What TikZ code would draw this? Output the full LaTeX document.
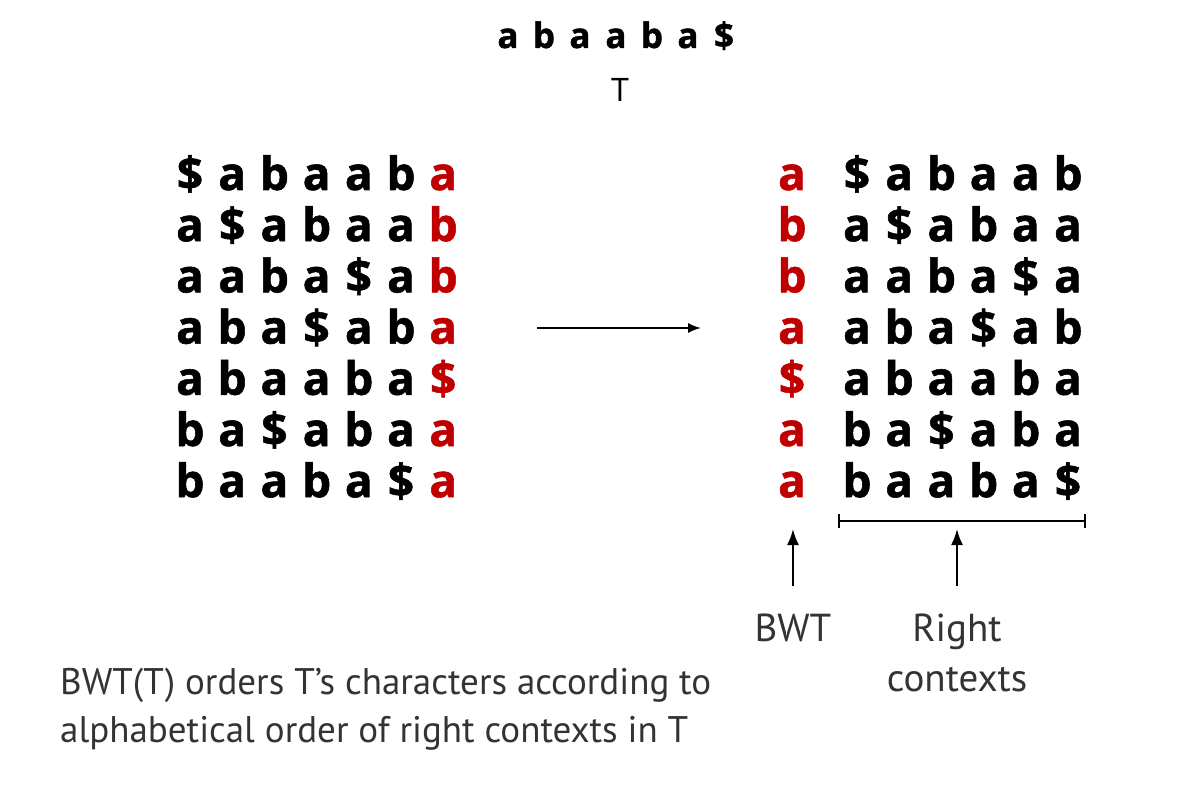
\documentclass[tikz,border=0pt]{standalone}
\usepackage{fontspec}
\setmainfont{PT Sans}
\newfontfamily\gridfont[BoldFeatures={FakeBold=1.2}]{Open Sans}
\usetikzlibrary{positioning,arrows.meta}
\definecolor{bwtred}{RGB}{192,0,0}
\definecolor{labelgray}{RGB}{51,51,51}

\begin{document}
\begin{tikzpicture}[x=1pt, y=-1pt,
  char node/.style={anchor=base, inner sep=0pt, font=\gridfont\bfseries\fontsize{46}{46}\selectfont},
  bwt node/.style={char node, text=bwtred},
  top node/.style={anchor=base, inner sep=0pt, font=\gridfont\bfseries\fontsize{35}{35}\selectfont},
  label node/.style={text=labelgray, inner sep=0pt, align=center, font=\fontsize{39}{50}\selectfont},
  pointer/.style={-{Latex[length=16pt,width=12pt]}, line width=2pt, draw=black}]

  \useasboundingbox (0,0) rectangle (1197,786);

  % the text T
  \foreach \c [count=\k] in {a,b,a,a,b,a,\$}
    \node[top node] (T\k) at ({508+(\k-1)*36},48) {\c};
  \node[anchor=base, inner sep=0pt, font=\fontsize{33}{33}\selectfont] (Tname) at (620,102) {T};

  % rotations (left) and sorted with BWT column (right)
  \foreach \row [count=\r] in {{\$,a,b,a,a,b,a},{a,\$,a,b,a,a,b},{a,a,b,a,\$,a,b},{a,b,a,\$,a,b,a},
                               {a,b,a,a,b,a,\$},{b,a,\$,a,b,a,a},{b,a,a,b,a,\$,a}}
    \foreach \c [count=\k] in \row {
      \pgfmathsetmacro\ypos{190+(\r-1)*51.2}
      \ifnum\k<7
        \node[char node] (L\r-\k) at ({190+(\k-1)*42.2},\ypos) {\c};
        \node[char node] (R\r-\k) at ({857+(\k-1)*42.2},\ypos) {\c};
      \else
        \node[bwt node] (L\r-7) at ({190+6*42.2},\ypos) {\c};
        \node[bwt node] (B\r) at (792,\ypos) {\c};
      \fi
    }

  % sort arrow
  \coordinate (sort from) at (537,328);
  \coordinate (sort to) at (701,328);
  \draw[-{Latex[length=13pt,width=10pt]}, line width=1.6pt] (sort from) -- (sort to);

  % right context bracket
  \coordinate (ctx left) at (838,521);
  \coordinate (ctx right) at (1086,521);
  \draw[{Bar[width=14pt]}-{Bar[width=14pt]}, line width=2pt] (ctx left) -- (ctx right);

  % labels
  \node[label node, anchor=north] (bwt label) at (793,614) {BWT};
  \node[label node, anchor=north] (ctx label) at (957,614) {Right\\contexts};
  \coordinate (bwt tip) at (793,529);
  \coordinate (ctx tip) at (957,529);
  \draw[pointer] ([yshift=28pt]bwt label.north) -- (bwt tip);
  \draw[pointer] ([yshift=28pt]ctx label.north) -- (ctx tip);

  \node[anchor=north west, align=left, inner sep=0pt, text=labelgray, font=\fontsize{37}{48}\selectfont] (note) at (60,668)
    {BWT(T) orders T’s characters according to\\alphabetical order of right contexts in T};
\end{tikzpicture}
\end{document}
